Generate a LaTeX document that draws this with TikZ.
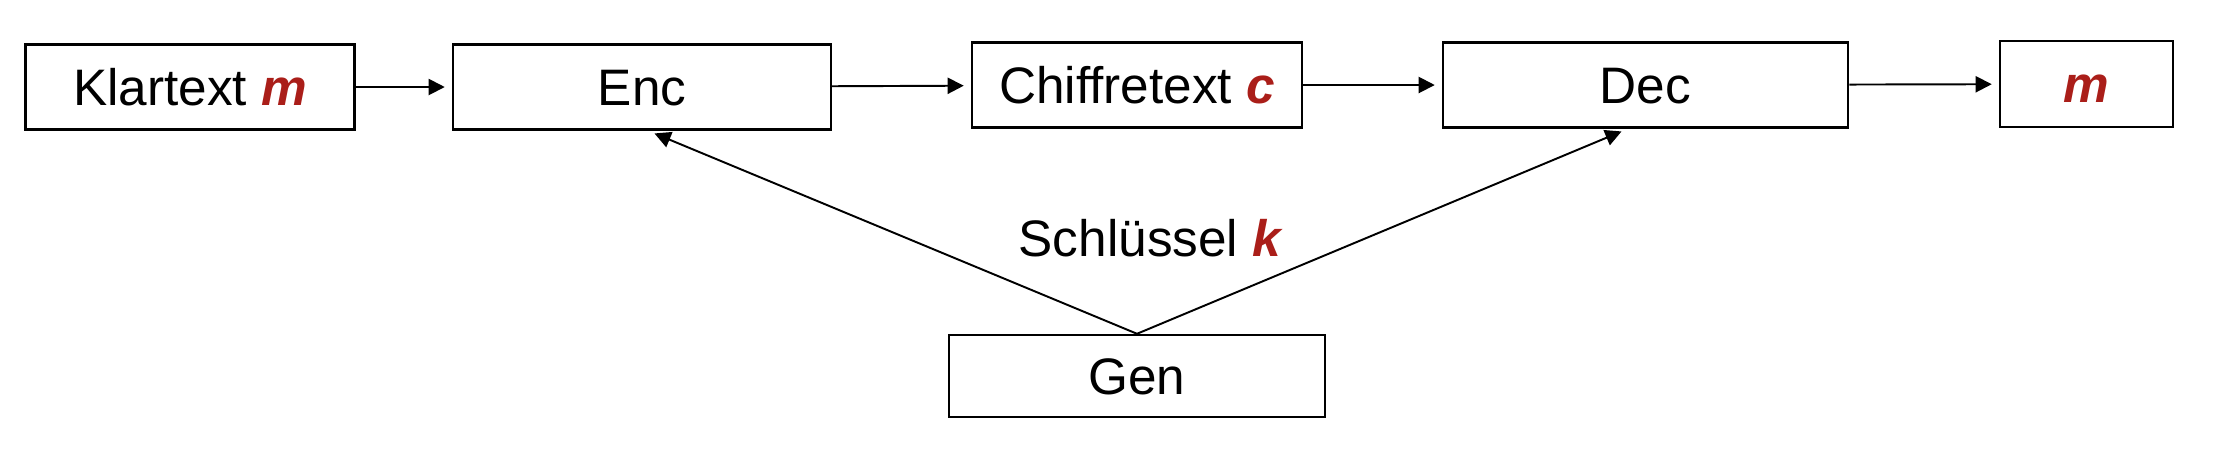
\documentclass[tikz,border=0pt]{standalone}
\usepackage{fontspec}
\setmainfont{Liberation Sans}
\usetikzlibrary{arrows.meta}
\definecolor{keyred}{RGB}{170,30,25}
\newcommand{\keyvar}[1]{\textcolor{keyred}{\textbf{\textit{#1}}}}
\begin{document}
\begin{tikzpicture}[box/.style={draw,line width=0.7pt,minimum height=0.85cm,inner sep=0pt,text height=10.5pt,text depth=0pt,font=\fontsize{14.6}{17}\selectfont},
 arr/.style={-{Triangle[length=4.6pt,width=4.6pt]},line width=0.55pt,shorten >=2pt}]
 \useasboundingbox (0,0) rectangle (22.34,4.52);
 \node[box,minimum width=3.29cm] (klar) at (1.90,3.65) {Klartext \keyvar{m}};
 \node[box,minimum width=3.78cm] (enc) at (6.42,3.65) {Enc};
 \node[box,minimum width=3.30cm] (chiffre) at (11.37,3.67) {Chiffretext \keyvar{c}};
 \node[box,minimum width=4.05cm] (dec) at (16.455,3.67) {Dec};
 \node[box,minimum width=1.73cm,minimum height=0.86cm] (out) at (20.865,3.68) {\keyvar{m}};
 \node[box,minimum width=3.76cm,minimum height=0.82cm] (gen) at (11.37,0.76) {Gen};
 \node[font=\fontsize{14.6}{17}\selectfont] (key) at (11.51,2.14) {Schlüssel \keyvar{k}};
 \draw[arr] (klar) -- (enc);
 \draw[arr] (enc) -- (chiffre);
 \draw[arr] (chiffre) -- (dec);
 \draw[arr] (dec) -- (out);
 \draw[arr] (gen.north) -- ([xshift=0.06cm]enc.south);
 \draw[arr] (gen.north) -- ([xshift=-0.175cm]dec.south);
\end{tikzpicture}
\end{document}
